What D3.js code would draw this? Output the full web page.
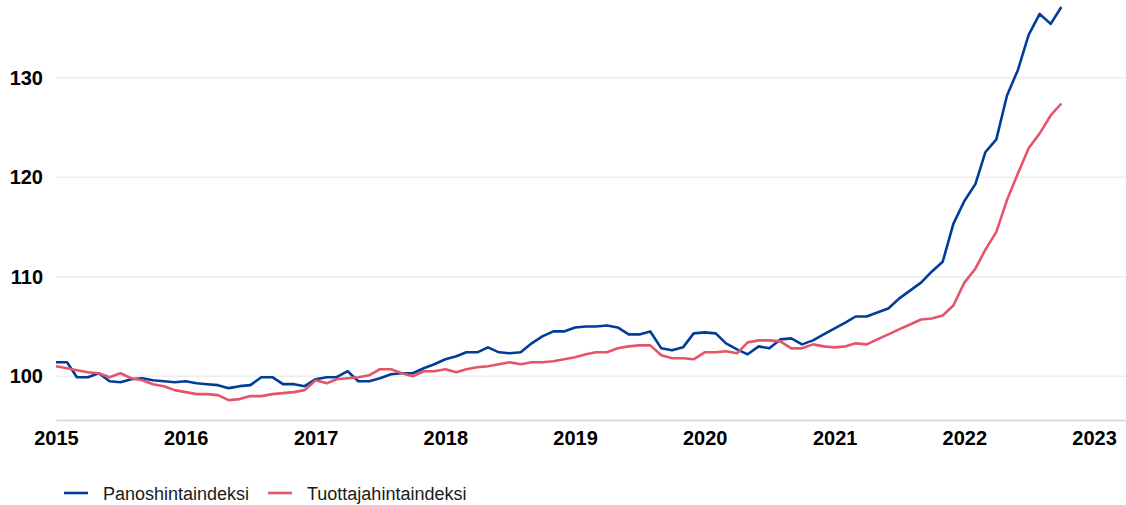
<!DOCTYPE html>
<html>
<head>
<meta charset="utf-8">
<script src="https://cdn.jsdelivr.net/npm/d3@7"></script>
<style>
    body { margin: 0; background: #ffffff; }
    svg { display: block; font-family: "Liberation Sans", Arial, sans-serif; }
    .axis text { font-size: 20px; font-weight: bold; fill: #000000; }
    .grid line { stroke: #ededed; stroke-width: 1.5px; }
    .legend text { font-size: 18px; fill: #1a1a1a; }
</style>
</head>
<body>
<script>

// monthly index values, first month is january 2015
var startMonth = "2015-01";

var panoshinta = [
    101.4, 101.4, 99.9, 99.9, 100.3, 99.5, 99.4, 99.7, 99.8, 99.6, 99.5, 99.4,
    99.5, 99.3, 99.2, 99.1, 98.8, 99.0, 99.1, 99.9, 99.9, 99.2, 99.2, 99.0,
    99.7, 99.9, 99.9, 100.5, 99.5, 99.5, 99.8, 100.2, 100.3, 100.3, 100.8, 101.2,
    101.7, 102.0, 102.4, 102.4, 102.9, 102.4, 102.3, 102.4, 103.3, 104.0, 104.5, 104.5,
    104.9, 105.0, 105.0, 105.1, 104.9, 104.2, 104.2, 104.5, 102.8, 102.6, 102.9, 104.3,
    104.4, 104.3, 103.3, 102.7, 102.2, 103.0, 102.8, 103.7, 103.8, 103.2, 103.6, 104.2,
    104.8, 105.4, 106.0, 106.0, 106.4, 106.8, 107.8, 108.6, 109.4, 110.5, 111.5, 115.3,
    117.6, 119.3, 122.5, 123.8, 128.2, 130.8, 134.3, 136.4, 135.4, 137.1
];

var tuottajahinta = [
    101.0, 100.8, 100.6, 100.4, 100.3, 99.9, 100.3, 99.8, 99.6, 99.2, 99.0, 98.6,
    98.4, 98.2, 98.2, 98.1, 97.6, 97.7, 98.0, 98.0, 98.2, 98.3, 98.4, 98.6,
    99.6, 99.3, 99.7, 99.8, 99.9, 100.1, 100.7, 100.7, 100.3, 100.0, 100.5, 100.5,
    100.7, 100.4, 100.7, 100.9, 101.0, 101.2, 101.4, 101.2, 101.4, 101.4, 101.5, 101.7,
    101.9, 102.2, 102.4, 102.4, 102.8, 103.0, 103.1, 103.1, 102.1, 101.8, 101.8, 101.7,
    102.4, 102.4, 102.5, 102.3, 103.4, 103.6, 103.6, 103.5, 102.8, 102.8, 103.2, 103.0,
    102.9, 103.0, 103.3, 103.2, 103.7, 104.2, 104.7, 105.2, 105.7, 105.8, 106.1, 107.1,
    109.4, 110.8, 112.7, 114.5, 117.7, 120.4, 122.9, 124.4, 126.2, 127.4
];

var seriesNames = ["Panoshintaindeksi", "Tuottajahintaindeksi"];
var seriesColors = ["#003d99", "#e5546b"];
var yearTicks = [2015, 2016, 2017, 2018, 2019, 2020, 2021, 2022, 2023];
var valueTicks = [100, 110, 120, 130];

window.onload = function() {

    var parseMonth = d3.timeParse("%Y-%m");
    var start = parseMonth(startMonth);

    // turn the value lists into lists of {date, value}
    var series = [panoshinta, tuottajahinta].map(function(values, i) {
        return {
            name: seriesNames[i],
            color: seriesColors[i],
            values: values.map(function(v, m) {
                return {date: d3.timeMonth.offset(start, m), value: v};
            })
        };
    });

    var margin = {top: 0, right: 0, bottom: 85, left: 56},
        width = 1126 - margin.left - margin.right,
        height = 505 - margin.top - margin.bottom;

    var svg = d3.select("body")
        .append("svg")
        .attr("width", width + margin.left + margin.right)
        .attr("height", height + margin.top + margin.bottom);

    var chart = svg.append("g")
        .attr("transform", "translate(" + margin.left + "," + margin.top + ")");

    var x = d3.scaleTime()
        .domain([new Date(2015, 0, 1), new Date(2023, 3, 1)])
        .range([0, width]);

    var y = d3.scaleLinear()
        .domain([95.6, 137.8])
        .range([height, 0]);

    // horizontal gridlines
    chart.append("g")
        .attr("class", "grid")
        .selectAll("line")
        .data(valueTicks)
        .enter()
        .append("line")
        .attr("x1", 0)
        .attr("x2", width)
        .attr("y1", function(d) { return y(d); })
        .attr("y2", function(d) { return y(d); });

    // y axis, only the labels
    var yAxis = d3.axisLeft(y)
        .tickValues(valueTicks)
        .tickSize(0)
        .tickPadding(13)
        .tickFormat(d3.format("d"));

    chart.append("g")
        .attr("class", "y axis")
        .call(yAxis)
        .call(function(g) { g.select(".domain").remove(); });

    // x axis with a light base line
    var xAxis = d3.axisBottom(x)
        .tickValues(yearTicks.map(function(yr) { return new Date(yr, 0, 1); }))
        .tickSize(0)
        .tickPadding(11)
        .tickFormat(d3.timeFormat("%Y"));

    chart.append("g")
        .attr("class", "x axis")
        .attr("transform", "translate(0," + height + ")")
        .call(xAxis)
        .call(function(g) {
            g.select(".domain")
                .attr("stroke", "#d4d4d4")
                .attr("stroke-width", 1.5);
        });

    var line = d3.line()
        .x(function(d) { return x(d.date); })
        .y(function(d) { return y(d.value); });

    chart.selectAll(".serie")
        .data(series)
        .enter()
        .append("path")
        .attr("class", "serie")
        .attr("fill", "none")
        .attr("stroke", function(d) { return d.color; })
        .attr("stroke-width", 2.6)
        .attr("stroke-linejoin", "round")
        .attr("d", function(d) { return line(d.values); });

    // legend below the chart
    var legendX = [64, 268];
    var legend = svg.selectAll(".legend")
        .data(series)
        .enter()
        .append("g")
        .attr("class", "legend")
        .attr("transform", function(d, i) { return "translate(" + legendX[i] + ",493)"; });

    legend.append("line")
        .attr("x1", 0)
        .attr("x2", 24)
        .attr("stroke", function(d) { return d.color; })
        .attr("stroke-width", 2.6);

    legend.append("text")
        .attr("x", 39)
        .attr("y", 7)
        .text(function(d) { return d.name; });
};

</script>
</body>
</html>
